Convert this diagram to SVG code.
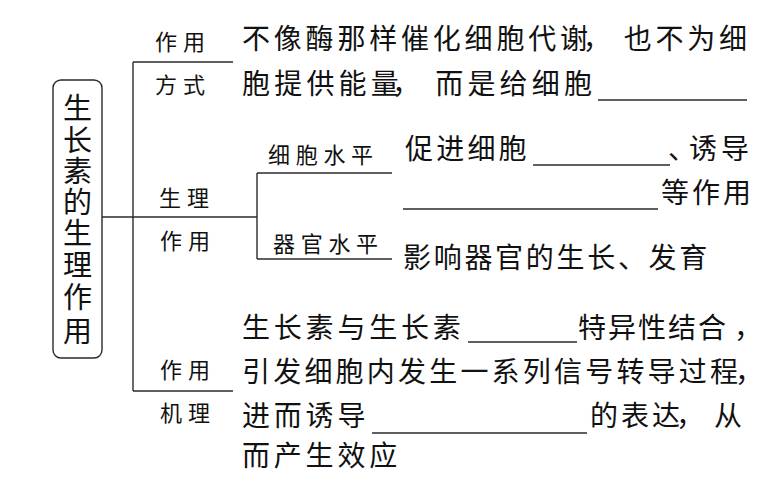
<svg xmlns="http://www.w3.org/2000/svg" width="766" height="496" viewBox="0 0 766 496">
<style>
text{font-family:"Noto Sans CJK SC","Noto Sans CJK JP",sans-serif;fill:#111}
.lbl{font-size:22px;letter-spacing:6px}
.main{font-size:28px;letter-spacing:3.8px}
.title{font-size:29px;text-anchor:middle}
.ln{stroke:#2a2a2a;stroke-width:1.4;fill:none}
.blank{stroke:#2a2a2a;stroke-width:1.3;fill:none}
</style>
<rect width="766" height="496" fill="#fff"/>
<g id="connectors">
<path class="ln" d="M102 217H257"/>
<path class="ln" d="M133 62V391"/>
<path class="ln" d="M133 62H233"/>
<path class="ln" d="M133 391H233"/>
<path class="ln" d="M257 173V259"/>
<path class="ln" d="M257 173H392"/>
<path class="ln" d="M257 259H392"/>
</g>
<g id="root">
<rect x="53" y="80" width="49" height="278" rx="8" class="ln"/>
<text class="title" x="77.5 77.5 77.5 77.5 77.5 77.5 77.5 77.5" y="119 151 182 213 244 276 308 342">生长素的生理作用</text>
</g>
<g id="mode">
<text class="lbl" x="155" y="50">作用</text>
<text class="lbl" x="155" y="93">方式</text>
<text class="main" x="242" y="49">不像酶那样催化细胞代谢<tspan dx="-9">，</tspan><tspan dx="9">也不为细</tspan></text>
<text class="main" x="242" y="94" style="letter-spacing:4.2px">胞提供能量<tspan dx="-11">，</tspan><tspan dx="11">而是给细胞</tspan></text>
<path class="blank" d="M598 100H747"/>
</g>
<g id="physio">
<text class="lbl" x="159" y="206">生理</text>
<text class="lbl" x="160" y="249">作用</text>
</g>
<g id="cell">
<text class="lbl" x="268" y="163" style="letter-spacing:5.7px">细胞水平</text>
<text class="main" x="405" y="159" style="letter-spacing:3.2px">促进细胞</text>
<path class="blank" d="M533 165H670"/>
<text class="main" x="668 689 721" y="159">、诱导</text>
<path class="blank" d="M403 209H658"/>
<text class="main" x="661" y="203" style="letter-spacing:3px">等作用</text>
</g>
<g id="organ">
<text class="lbl" x="273" y="252" style="letter-spacing:5.7px">器官水平</text>
<text class="main" x="403" y="268" style="letter-spacing:2.7px">影响器官的生长、发育</text>
</g>
<g id="mechanism">
<text class="lbl" x="160" y="378">作用</text>
<text class="lbl" x="160" y="421">机理</text>
<text class="main" x="242" y="338">生长素与生长素</text>
<path class="blank" d="M468 342H577"/>
<text class="main" x="578" y="338" style="letter-spacing:2px">特异性结合</text>
<text class="main" x="734" y="338">，</text>
<text class="main" x="242" y="382" style="letter-spacing:3.2px">引发细胞内发生一系列信号转导过程</text>
<text class="main" x="735" y="382">，</text>
<text class="main" x="242" y="426">进而诱导</text>
<path class="blank" d="M372 433H587"/>
<text class="main" x="590 621 652 676 714" y="426">的表达，从</text>
<text class="main" x="242" y="466">而产生效应</text>
</g>
</svg>
